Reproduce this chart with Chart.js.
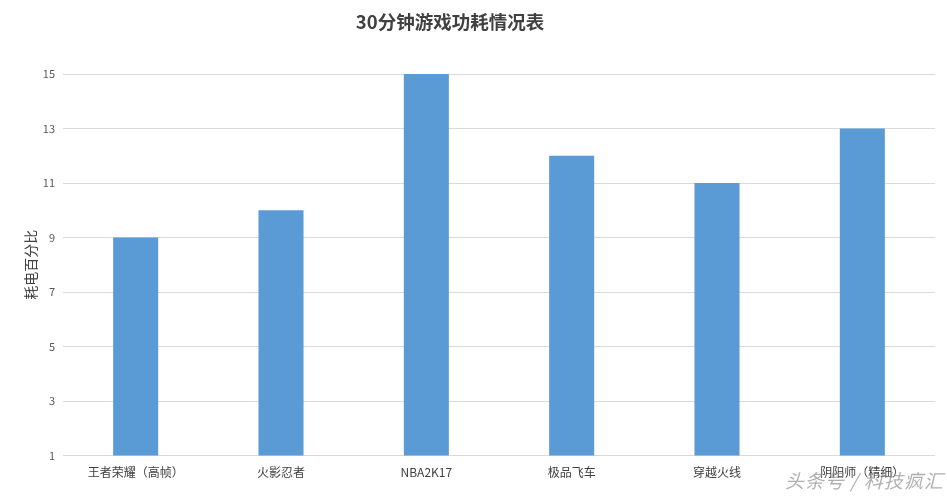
<!DOCTYPE html>
<html><head><meta charset="utf-8">
<script src="https://cdn.jsdelivr.net/npm/chart.js@4/dist/chart.umd.min.js"></script>
<style>
html,body{margin:0;padding:0;background:#fff;}
#wrap{position:relative;width:947px;height:496px;}
#wm{position:absolute;left:785px;top:466px;font:italic 19px "Noto Sans CJK SC";color:rgba(150,150,150,0.75);letter-spacing:1px;}
</style></head>
<body><div id="wrap"><canvas id="c" width="947" height="496"></canvas><div id="wm">头条号 / 科技疯汇</div></div>
<script>
const categories = ["王者荣耀（高帧）","火影忍者","NBA2K17","极品飞车","穿越火线","阴阳师（精细）"];
const values = [9,10,15,12,11,13];
const yTicks = [1,3,5,7,9,11,13,15];
const titleText = "30分钟游戏功耗情况表";
const yTitle = "耗电百分比";
const font = '"Noto Sans CJK SC", "Microsoft YaHei", sans-serif';
const titlePlugin = {
  id: 'ttl',
  afterDraw(chart) {
    const ctx = chart.ctx;
    ctx.save();
    ctx.font = 'bold 18.5px ' + font;
    ctx.fillStyle = '#404040';
    ctx.textAlign = 'center';
    ctx.textBaseline = 'middle';
    ctx.fillText(titleText, 450, 22);
    ctx.restore();
  }
};
new Chart(document.getElementById('c'), {
  type: 'bar',
  data: { labels: categories, datasets: [{ data: values, backgroundColor: '#5b9bd5', barPercentage: 0.62, categoryPercentage: 0.5 }] },
  options: {
    responsive: false, animation: false,
    layout: { padding: { left: 14, right: 12, top: 74, bottom: 14 } },
    plugins: { legend: { display: false }, tooltip: { enabled: false } },
    scales: {
      x: { grid: { display: false }, border: { display: false },
           ticks: { color: '#404040', font: { family: font, size: 12 }, maxRotation: 0, padding: 2 } },
      y: { min: 1, max: 15, afterBuildTicks: a => { a.ticks = yTicks.map(v => ({ value: v })); },
           grid: { color: '#d9d9d9', drawTicks: false }, border: { display: false },
           ticks: { color: '#595959', font: { family: font, size: 11 }, padding: 8 },
           title: { display: true, text: yTitle, color: '#404040', font: { family: font, size: 14 }, padding: { top: 8, bottom: -4 } } }
    }
  },
  plugins: [titlePlugin]
});
</script></body></html>
